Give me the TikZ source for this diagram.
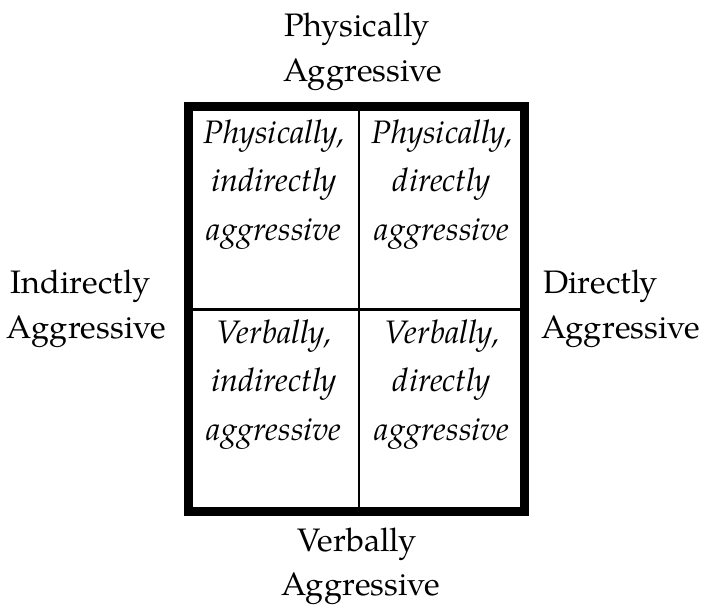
\documentclass[tikz,border=0pt]{standalone}
\usepackage{fontspec}
\setmainfont{TeX Gyre Pagella}
\begin{document}
\begin{tikzpicture}[x=1pt,y=-1pt,
  lbl/.style={anchor=base,inner sep=0pt,font=\fontsize{32.5}{40}\selectfont},
  cell/.style={anchor=base,inner sep=0pt,font=\fontsize{32.5}{40}\selectfont\itshape},
  divider/.style={line width=2.2pt},
  frame/.style={line width=9.5pt}]
\useasboundingbox (0,0) rectangle (704,608);
% grid
\coordinate (tl) at (188.5,106.5);
\coordinate (br) at (524.5,511.5);
\coordinate (vt) at (359,106.5);
\coordinate (vb) at (359,511.5);
\coordinate (hl) at (188.5,309.5);
\coordinate (hr) at (524.5,309.5);
\draw[divider] (vt) -- (vb);
\draw[divider] (hl) -- (hr);
\draw[frame] (tl) rectangle (br);
% outer labels
\node[lbl] (t1) at (357,36) {Physically};
\node[lbl] (t2) at (363,81) {Aggressive};
\node[lbl] (l1) at (80.5,293) {Indirectly};
\node[lbl] (l2) at (86.5,338) {Aggressive};
\node[lbl,anchor=base west] (r1) at (543,293) {Directly};
\node[lbl,anchor=base west] (r2) at (541,338) {Aggressive};
\node[lbl] (b1) at (357,551) {Verbally};
\node[lbl] (b2) at (361,595) {Aggressive};
% cells
\node[cell] (a1) at (274,143) {Physically,};
\node[cell] (a2) at (274,191.5) {indirectly};
\node[cell] (a3) at (274,240) {aggressive};
\node[cell] (b1c) at (442,143) {Physically,};
\node[cell] (b2c) at (442,191.5) {directly};
\node[cell] (b3c) at (442,240) {aggressive};
\node[cell] (c1) at (274,343) {Verbally,};
\node[cell] (c2) at (274,391.5) {indirectly};
\node[cell] (c3) at (274,440) {aggressive};
\node[cell] (d1) at (442,343) {Verbally,};
\node[cell] (d2) at (442,391.5) {directly};
\node[cell] (d3) at (442,440) {aggressive};
\end{tikzpicture}
\end{document}
